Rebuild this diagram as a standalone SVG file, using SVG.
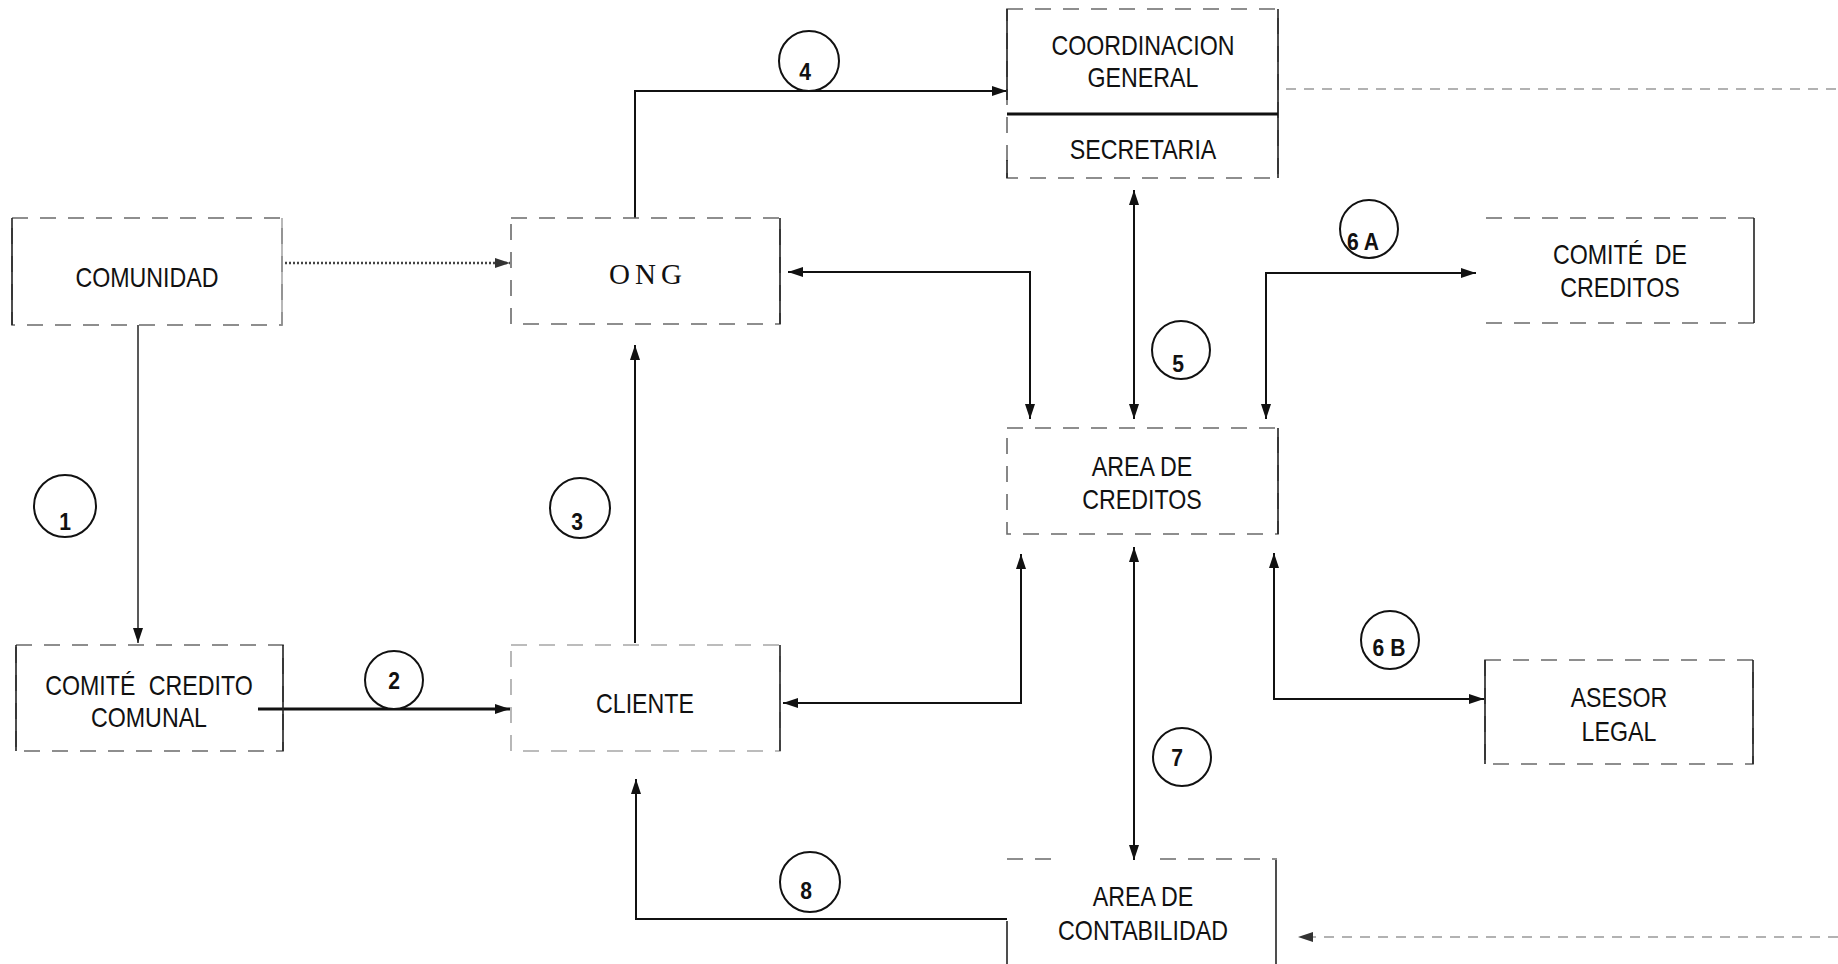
<svg xmlns="http://www.w3.org/2000/svg" width="1838" height="964" viewBox="0 0 1838 964">
<style>
.bg{fill:#ffffff}
.box{fill:none;stroke:#6a6a6a;stroke-width:1.6;stroke-dasharray:16 12}
.edge{stroke:#222;stroke-width:1.6;fill:none}
.edgel{stroke:#9a9a9a;stroke-width:1.4;fill:none}
.lbl{font-family:"Liberation Sans",Arial,sans-serif;font-size:27px;fill:#111;text-anchor:middle}
.ong{font-family:"Liberation Serif","Times New Roman",serif;font-size:29px;fill:#111;text-anchor:middle;letter-spacing:5px}
.num{font-family:"Liberation Sans",Arial,sans-serif;font-size:24px;font-weight:bold;fill:#111;text-anchor:middle}
.ring{fill:#fff;stroke:#111;stroke-width:2}
.ln{fill:none;stroke:#111;stroke-width:2}
.thin{fill:none;stroke:#222;stroke-width:1.5}
.thick{fill:none;stroke:#111;stroke-width:3}
.dot{fill:none;stroke:#444;stroke-width:2.5;stroke-dasharray:2 2}
.gdash{fill:none;stroke:#999;stroke-width:1.5;stroke-dasharray:10 8}
</style>
<defs>
<marker id="ah" viewBox="0 0 15 10" refX="15" refY="5" markerWidth="15" markerHeight="10" markerUnits="userSpaceOnUse" orient="auto-start-reverse">
<path d="M0,0 L15,5 L0,10 z" fill="#111"/>
</marker>
<marker id="ahg" viewBox="0 0 15 10" refX="15" refY="5" markerWidth="15" markerHeight="10" markerUnits="userSpaceOnUse" orient="auto-start-reverse">
<path d="M0,0 L15,5 L0,10 z" fill="#333"/>
</marker>
</defs>
<rect class="bg" x="0" y="0" width="1838" height="964"/>

<g id="connectors">
<line class="dot" x1="285" y1="263" x2="510" y2="263" marker-end="url(#ahg)"/>
<line class="thin" x1="138" y1="325" x2="138" y2="643" marker-end="url(#ah)"/>
<line class="thick" x1="258" y1="709" x2="510" y2="709" marker-end="url(#ah)"/>
<line class="ln" x1="635" y1="643" x2="635" y2="345" marker-end="url(#ah)"/>
<path class="ln" d="M635,218 V91 H1007" marker-end="url(#ah)"/>
<line class="gdash" x1="1286" y1="89" x2="1838" y2="89"/>
<line class="ln" x1="1134" y1="190" x2="1134" y2="419" marker-start="url(#ah)" marker-end="url(#ah)"/>
<path class="ln" d="M788,272 H1030 V419" marker-start="url(#ah)" marker-end="url(#ah)"/>
<path class="ln" d="M783,703 H1021 V554" marker-start="url(#ah)" marker-end="url(#ah)"/>
<path class="ln" d="M1266,419 V273 H1476" marker-start="url(#ah)" marker-end="url(#ah)"/>
<path class="ln" d="M1274,553 V699 H1484" marker-start="url(#ah)" marker-end="url(#ah)"/>
<line class="ln" x1="1134" y1="547" x2="1134" y2="860" marker-start="url(#ah)" marker-end="url(#ah)"/>
<path class="ln" d="M1007,919 H636 V779" marker-end="url(#ah)"/>
<line class="gdash" x1="1838" y1="937" x2="1298" y2="937" marker-end="url(#ahg)"/>
</g>

<g id="labels">
<circle class="ring" cx="65" cy="506" r="31"/><text class="num" transform="translate(65 0) scale(0.88 1)" x="0" y="530">1</text>
<circle class="ring" cx="394" cy="680" r="29"/><text class="num" transform="translate(394 0) scale(0.88 1)" x="0" y="689">2</text>
<circle class="ring" cx="580" cy="508" r="30"/><text class="num" transform="translate(577 0) scale(0.88 1)" x="0" y="530">3</text>
<circle class="ring" cx="809" cy="61" r="30"/><text class="num" transform="translate(805 0) scale(0.88 1)" x="0" y="80">4</text>
<circle class="ring" cx="1181" cy="350" r="29"/><text class="num" transform="translate(1178 0) scale(0.88 1)" x="0" y="372">5</text>
<circle class="ring" cx="1369" cy="229" r="29"/><text class="num" transform="translate(1363 0) scale(0.88 1)" x="0" y="250">6 A</text>
<circle class="ring" cx="1390" cy="640" r="29"/><text class="num" transform="translate(1389 0) scale(0.88 1)" x="0" y="656">6 B</text>
<circle class="ring" cx="1182" cy="757" r="29"/><text class="num" transform="translate(1177 0) scale(0.88 1)" x="0" y="766">7</text>
<circle class="ring" cx="810" cy="882" r="30"/><text class="num" transform="translate(806 0) scale(0.88 1)" x="0" y="899">8</text>
</g>

<g id="comunidad">
<rect class="box" x="12" y="218" width="270" height="107"/>
<line class="edge" x1="12" y1="218" x2="12" y2="325"/>
<line class="edgel" x1="282" y1="218" x2="282" y2="325"/>
<text class="lbl" transform="translate(147 0) scale(0.86 1)" x="0" y="287">COMUNIDAD</text>
</g>

<g id="ong">
<rect class="box" x="511" y="218" width="269" height="106"/>
<line class="edge" x1="780" y1="218" x2="780" y2="324"/>
<text class="ong" x="648" y="284">ONG</text>
</g>

<g id="comite-credito-comunal">
<rect class="box" x="16" y="645" width="267" height="106"/>
<line class="edge" x1="16" y1="645" x2="16" y2="751"/>
<line class="edge" x1="283" y1="645" x2="283" y2="751"/>
<text class="lbl" transform="translate(149 0) scale(0.86 1)" x="0" y="695" word-spacing="8">COMITÉ CREDITO</text>
<text class="lbl" transform="translate(149 0) scale(0.86 1)" x="0" y="727">COMUNAL</text>
</g>

<g id="cliente">
<rect class="box" x="511" y="645" width="269" height="106" stroke-opacity="0.6"/>
<line class="edge" x1="780" y1="645" x2="780" y2="751"/>
<text class="lbl" transform="translate(645 0) scale(0.86 1)" x="0" y="713">CLIENTE</text>
</g>

<g id="coordinacion-general">
<rect class="box" x="1007" y="9" width="271" height="169"/>
<line class="edge" x1="1007" y1="9" x2="1007" y2="100"/>
<line class="edge" x1="1007" y1="160" x2="1007" y2="178"/>
<line class="edge" x1="1278" y1="9" x2="1278" y2="178"/>
<line x1="1007" y1="114" x2="1278" y2="114" stroke="#111" stroke-width="3"/>
<text class="lbl" transform="translate(1143 0) scale(0.86 1)" x="0" y="55">COORDINACION</text>
<text class="lbl" transform="translate(1143 0) scale(0.86 1)" x="0" y="87">GENERAL</text>
<text class="lbl" transform="translate(1143 0) scale(0.86 1)" x="0" y="159">SECRETARIA</text>
</g>

<g id="area-de-creditos">
<rect class="box" x="1007" y="428" width="271" height="106"/>
<line class="edge" x1="1278" y1="428" x2="1278" y2="534"/>
<text class="lbl" transform="translate(1142 0) scale(0.86 1)" x="0" y="476">AREA DE</text>
<text class="lbl" transform="translate(1142 0) scale(0.86 1)" x="0" y="509">CREDITOS</text>
</g>

<g id="comite-de-creditos">
<path class="box" d="M1486,218 H1754 M1486,323 H1754"/>
<line class="edge" x1="1754" y1="218" x2="1754" y2="323"/>
<text class="lbl" transform="translate(1620 0) scale(0.86 1)" x="0" y="264" word-spacing="6">COMITÉ DE</text>
<text class="lbl" transform="translate(1620 0) scale(0.86 1)" x="0" y="297">CREDITOS</text>
</g>

<g id="asesor-legal">
<rect class="box" x="1485" y="660" width="268" height="104"/>
<line class="edge" x1="1485" y1="660" x2="1485" y2="764" stroke-width="1.2"/>
<line class="edge" x1="1753" y1="660" x2="1753" y2="764"/>
<text class="lbl" transform="translate(1619 0) scale(0.86 1)" x="0" y="707">ASESOR</text>
<text class="lbl" transform="translate(1619 0) scale(0.86 1)" x="0" y="741">LEGAL</text>
</g>

<g id="area-de-contabilidad">
<path class="box" d="M1007,859 H1060 M1160,859 H1277" stroke="#999"/>
<line class="edge" x1="1007" y1="921" x2="1007" y2="964"/>
<line class="edge" x1="1276" y1="860" x2="1276" y2="964"/>
<text class="lbl" transform="translate(1143 0) scale(0.86 1)" x="0" y="906">AREA DE</text>
<text class="lbl" transform="translate(1143 0) scale(0.86 1)" x="0" y="940">CONTABILIDAD</text>
</g>
</svg>
